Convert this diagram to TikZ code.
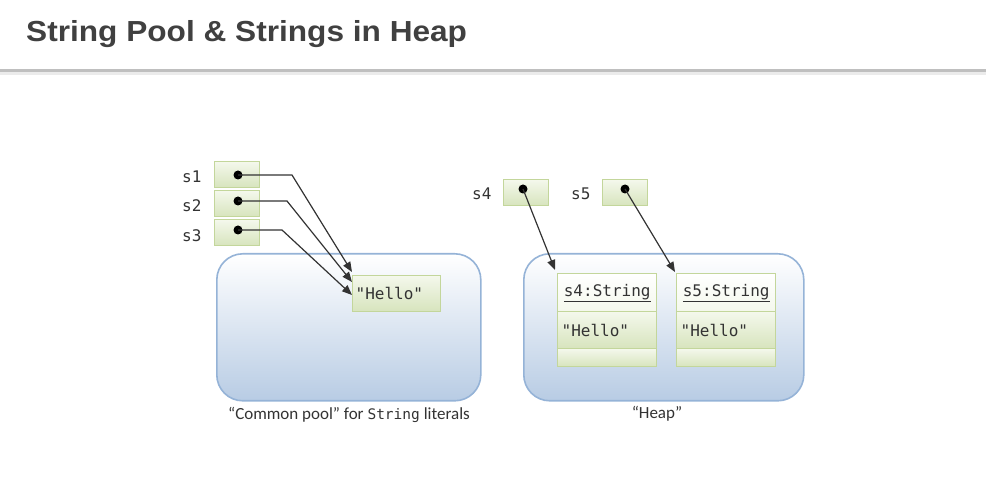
\documentclass[tikz,border=0pt]{standalone}
\usepackage{fontspec}
\setmainfont{Carlito}
\newfontfamily\titlefont{Liberation Sans}
\newfontfamily\codefont{DejaVu Sans Mono}
\usetikzlibrary{arrows.meta,calc}
\definecolor{txt}{HTML}{333333}
\definecolor{ttl}{HTML}{404040}
\definecolor{gborder}{HTML}{C3D69B}
\definecolor{gtop}{HTML}{F4F8EC}
\definecolor{gbot}{HTML}{D7E4BD}
\definecolor{bborder}{HTML}{95B3D7}
\definecolor{bbot}{HTML}{B8CCE4}
\definecolor{rule}{HTML}{BFBFBF}
\tikzset{
  refbox/.style={draw=gborder, line width=1.4pt, top color=gtop, bottom color=gbot,
    minimum width=45pt, minimum height=26pt, inner sep=0pt},
  area/.style={draw=bborder, line width=1.6pt, rounded corners=26pt, top color=white,
    bottom color=bbot, inner sep=0pt},
  objpart/.style={draw=gborder, line width=1.4pt, top color=gtop, bottom color=gbot,
    inner sep=0pt, text=txt, font=\codefont\fontsize{16}{18}\selectfont,
    anchor=north west},
  lbl/.style={text=txt, font=\codefont\fontsize{16}{18}\selectfont},
  dotm/.style={circle, fill=black, inner sep=0pt, minimum size=9pt},
  ptr/.style={draw=txt, line width=1.2pt, -{Triangle[length=10pt,width=8pt]}},
  caption/.style={text=txt, font=\fontsize{17}{20}\selectfont}
}
\begin{document}
\begin{tikzpicture}[x=1pt,y=-1pt]
\useasboundingbox (0,0) rectangle (986,494);
% title
\node[anchor=base west, inner sep=0pt, text=ttl, xscale=1.09, font=\titlefont\bfseries\fontsize{29}{32}\selectfont] (title) at (26,42) {String Pool \& Strings in Heap};
\fill[black!8] (0,72) rectangle (986,75);
\fill[rule] (0,69) rectangle (986,72.5);
% areas
\node[area, minimum width=264pt, minimum height=147pt, anchor=north west] (pool) at (216,253) {};
\node[area, minimum width=280pt, minimum height=147pt, anchor=north west] (heap) at (523,253) {};
% pointer boxes
\node[refbox, anchor=north west] (b1) at (214,161) {};
\node[refbox, anchor=north west] (b2) at (214,190) {};
\node[refbox, anchor=north west] (b3) at (214,219) {};
\node[refbox, anchor=north west] (b4) at (503,179) {};
\node[refbox, anchor=north west] (b5) at (602,179) {};
\node[lbl, anchor=east] (l1) at (205,177) {s1};
\node[lbl, anchor=east] (l2) at (205,206) {s2};
\node[lbl, anchor=east] (l3) at (205,236) {s3};
\node[lbl, anchor=east] (l4) at (495,194) {s4};
\node[lbl, anchor=east] (l5) at (594,194) {s5};
\node[dotm] (d1) at (238,175) {};
\node[dotm] (d2) at (238,201) {};
\node[dotm] (d3) at (238,230) {};
\node[dotm] (d4) at (523,189) {};
\node[dotm] (d5) at (625,189) {};
% hello in pool
\node[objpart, minimum width=88pt, minimum height=36pt, text width=82pt, align=left, inner xsep=3pt, anchor=north west] (hello) at (352,275) {"Hello"};
% heap objects
\node[objpart, top color=white, bottom color=gtop, minimum width=99pt, minimum height=38pt] (o4h) at (557,273) {\underline{s4:String}};
\node[objpart, minimum width=99pt, minimum height=37pt, text width=91pt, align=left, inner xsep=4pt] (o4v) at (557,311) {"Hello"};
\node[objpart, minimum width=99pt, minimum height=18pt] (o4e) at (557,348) {};
\node[objpart, top color=white, bottom color=gtop, minimum width=99pt, minimum height=38pt] (o5h) at (676,273) {\underline{s5:String}};
\node[objpart, minimum width=99pt, minimum height=37pt, text width=91pt, align=left, inner xsep=4pt] (o5v) at (676,311) {"Hello"};
\node[objpart, minimum width=99pt, minimum height=18pt] (o5e) at (676,348) {};
% arrows
\draw[ptr] (d1.center) -- (292,175) -- ([yshift=3pt]hello.north west);
\draw[ptr] (d2.center) -- (287,201) -- ([yshift=-7pt]hello.north west);
\draw[ptr] (d3.center) -- (282,230) -- ([yshift=-20pt]hello.north west);
\draw[ptr] (d4.center) -- ([xshift=-2pt,yshift=3pt]o4h.north west);
\draw[ptr] (d5.center) -- ([xshift=-1pt,yshift=1pt]o5h.north west);
% captions
\node[caption] (cap1) at (349,415) {“Common pool” for {\codefont\fontsize{14.5}{16}\selectfont String} literals};
\node[caption] (cap2) at (657,414) {“Heap”};
\end{tikzpicture}
\end{document}
